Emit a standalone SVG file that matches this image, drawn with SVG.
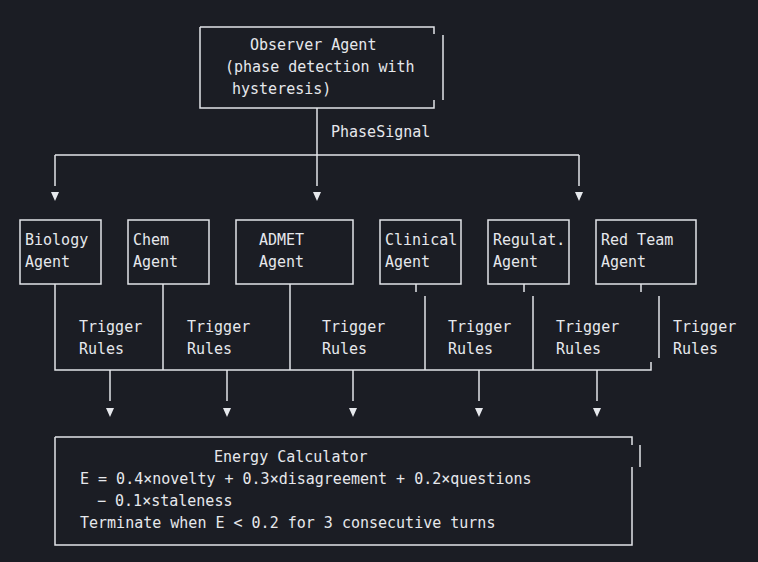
<svg xmlns="http://www.w3.org/2000/svg" width="758" height="562" viewBox="0 0 758 562">
<style>
.l{stroke:#e2e4e8;stroke-width:1.5;fill:none}
.t{font-family:"DejaVu Sans Mono",monospace;font-size:15px;fill:#e6e8ec}
.a{fill:#e6e8ec}
</style>
<rect width="758" height="562" fill="#1b1d24"/>
<g id="observer">
<path class="l" d="M200 27H434V34M200 27V108H434V100M443 35V100"/>
<text class="t" x="250" y="50">Observer Agent</text>
<text class="t" x="225" y="72">(phase detection with</text>
<text class="t" x="232" y="94">hysteresis)</text>
</g>
<g id="biology"><rect class="l" x="20" y="220" width="81" height="64"/><text class="t" x="25" y="245">Biology</text><text class="t" x="25" y="267">Agent</text></g>
<g id="chem"><rect class="l" x="128" y="220" width="81" height="64"/><text class="t" x="133" y="245">Chem</text><text class="t" x="133" y="267">Agent</text></g>
<g id="admet"><rect class="l" x="236" y="220" width="117" height="64"/><text class="t" x="259" y="245">ADMET</text><text class="t" x="259" y="267">Agent</text></g>
<g id="clinical"><rect class="l" x="380" y="220" width="81" height="64"/><text class="t" x="385" y="245">Clinical</text><text class="t" x="385" y="267">Agent</text></g>
<g id="regulat"><rect class="l" x="488" y="220" width="81" height="64"/><text class="t" x="493" y="245">Regulat.</text><text class="t" x="493" y="267">Agent</text></g>
<g id="redteam"><rect class="l" x="596" y="220" width="100" height="64"/><text class="t" x="601" y="245">Red Team</text><text class="t" x="601" y="267">Agent</text></g>
<g id="energy">
<path class="l" d="M55 437H632V445M55 437V545H632V467M640 445V467"/>
<text class="t" x="214" y="462">Energy Calculator</text>
<text class="t" x="80" y="484">E = 0.4×novelty + 0.3×disagreement + 0.2×questions</text>
<text class="t" x="97" y="506">− 0.1×staleness</text>
<text class="t" x="80" y="528">Terminate when E &lt; 0.2 for 3 consecutive turns</text>
</g>
<g id="connectors">
<path class="l" d="M317 108V186M55 155H579M55 155V186M579 155V186"/>
<text class="t" x="331" y="137">PhaseSignal</text>
<path class="a" d="M51 192H59L55 201ZM313 192H321L317 201ZM575 192H583L579 201Z"/>
<path class="l" d="M55 284V370H651V362M163 284V370M290 284V370M416 284V292M425 296V370M524 284V292M533 296V370M641 284V292M659 296V358"/>
<text class="t" x="79" y="332">Trigger</text><text class="t" x="79" y="354">Rules</text>
<text class="t" x="187" y="332">Trigger</text><text class="t" x="187" y="354">Rules</text>
<text class="t" x="322" y="332">Trigger</text><text class="t" x="322" y="354">Rules</text>
<text class="t" x="448" y="332">Trigger</text><text class="t" x="448" y="354">Rules</text>
<text class="t" x="556" y="332">Trigger</text><text class="t" x="556" y="354">Rules</text>
<text class="t" x="673" y="332">Trigger</text><text class="t" x="673" y="354">Rules</text>
<path class="l" d="M110 370V401M227 370V401M353 370V401M479 370V401M597 370V401"/>
<path class="a" d="M106 408H114L110 417ZM223 408H231L227 417ZM349 408H357L353 417ZM475 408H483L479 417ZM593 408H601L597 417Z"/>
</g>
</svg>
